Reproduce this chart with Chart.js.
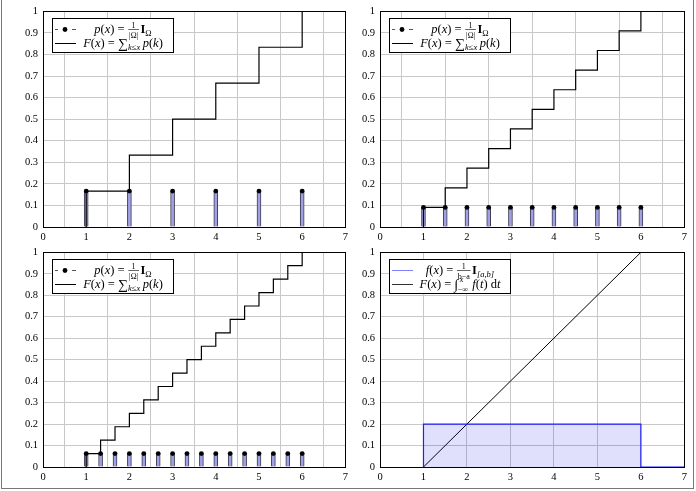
<!DOCTYPE html>
<html>
<head>
<meta charset="utf-8">
<script src="https://cdn.jsdelivr.net/npm/chart.js@4/dist/chart.umd.min.js"></script>
<style>
    body { margin: 0; background: #fff; }
    #page { position: relative; width: 696px; height: 491px; overflow: hidden; }
    #frame { position: absolute; left: 1px; top: -2px; width: 691px; height: 489px; border: 1px solid #777; }
    canvas { position: absolute; }
</style>
</head>
<body>
<div id="page">
    <div id="frame"></div>
    <canvas id="dieGraph" style="left:0;top:0" width="352" height="245"></canvas>
    <canvas id="halfGraph" style="left:337px;top:0" width="354" height="245"></canvas>
    <canvas id="thirdGraph" style="left:0;top:241px" width="352" height="244"></canvas>
    <canvas id="uniformGraph" style="left:337px;top:241px" width="354" height="244"></canvas>
</div>
<script>
// discrete uniform on {1..6}
const dieX = [1, 2, 3, 4, 5, 6];
const dieP = [0.1667, 0.1667, 0.1667, 0.1667, 0.1667, 0.1667];
const dieF = [0.1667, 0.3333, 0.5, 0.6667, 0.8333, 1];

// discrete uniform on 1, 1.5, ..., 6
const halfX = [1, 1.5, 2, 2.5, 3, 3.5, 4, 4.5, 5, 5.5, 6];
const halfP = [0.0909, 0.0909, 0.0909, 0.0909, 0.0909, 0.0909, 0.0909, 0.0909, 0.0909, 0.0909, 0.0909];
const halfF = [0.0909, 0.1818, 0.2727, 0.3636, 0.4545, 0.5455, 0.6364, 0.7273, 0.8182, 0.9091, 1];

// discrete uniform on 1, 4/3, ..., 6
const thirdX = [1, 1.333, 1.667, 2, 2.333, 2.667, 3, 3.333, 3.667, 4, 4.333, 4.667, 5, 5.333, 5.667, 6];
const thirdP = [0.0625, 0.0625, 0.0625, 0.0625, 0.0625, 0.0625, 0.0625, 0.0625,
    0.0625, 0.0625, 0.0625, 0.0625, 0.0625, 0.0625, 0.0625, 0.0625];
const thirdF = [0.0625, 0.125, 0.1875, 0.25, 0.3125, 0.375, 0.4375, 0.5,
    0.5625, 0.625, 0.6875, 0.75, 0.8125, 0.875, 0.9375, 1];

// continuous uniform on [1, 6]
const densX = [1, 1, 6, 6, 7];
const densY = [0, 0.2, 0.2, 0, 0];
const cdfX = [1, 6];
const cdfY = [0, 1];

const xMin = 0, xMax = 7, xStep = 1;
const yMin = 0, yMax = 1, yStep = 0.1;

const serif = '"Liberation Serif", "DejaVu Serif", serif';
const tickFont = { family: serif, size: 10.5 };

const pts = (xs, ys) => xs.map((x, i) => ({ x: x, y: ys[i] }));

const scales = {
    x: {
        type: 'linear', min: xMin, max: xMax, offset: false,
        ticks: { stepSize: xStep, color: '#000', font: tickFont, padding: 4, maxRotation: 0 },
        grid: { color: '#c8c8c8', drawTicks: false },
        border: { display: false },
        afterFit: s => { s.height = 18; }
    },
    y: {
        min: yMin, max: yMax,
        ticks: { stepSize: yStep, color: '#000', font: tickFont, padding: 5,
            callback: v => String(+v.toFixed(1)) },
        grid: { color: '#c8c8c8', drawTicks: false },
        border: { display: false },
        afterFit: s => { s.width = 43; }
    }
};

// math-ish text: italic / bold / sub / sup / fractions
function fontOf(p, size) {
    return (p.b ? 'bold ' : '') + (p.i ? 'italic ' : '') + size + 'px ' + serif;
}

function typeset(ctx, parts, x, y, draw) {
    let w = 0;
    ctx.textBaseline = 'alphabetic';
    ctx.textAlign = 'left';
    parts.forEach(p => {
        if (p.frac) {
            ctx.font = fontOf(p, 8);
            const nw = ctx.measureText(p.frac[0]).width;
            const dw = ctx.measureText(p.frac[1]).width;
            const fw = Math.max(nw, dw) + 1.5;
            if (draw) {
                ctx.fillText(p.frac[0], x + w + 0.5 + (fw - nw) / 2, y - 5.5);
                ctx.fillText(p.frac[1], x + w + 0.5 + (fw - dw) / 2, y + 4.5);
                ctx.fillRect(x + w + 0.5, y - 4, fw, 0.6);
            }
            w += fw + 2;
        } else if (p.lim) {
            ctx.font = fontOf({ i: true }, 8);
            const sw = ctx.measureText(p.lim[0]).width;
            const bw = ctx.measureText(p.lim[1]).width;
            if (draw) {
                ctx.fillText(p.lim[0], x + w + 1, y - 6);
                ctx.font = fontOf({}, 8);
                ctx.fillText(p.lim[1], x + w - 1, y + 4);
            }
            w += Math.max(sw, bw) + 2.5;
        } else {
            const size = p.sub || p.sup ? 8.5 : (p.size || 12.5);
            ctx.font = fontOf(p, size);
            const dy = p.sub ? 3 : (p.sup ? -4 : 0) + (p.dy || 0);
            if (draw) ctx.fillText(p.t, x + w, y + dy);
            w += ctx.measureText(p.t).width + (p.sp || 0);
        }
    });
    return w;
}

const pmfLabel = [
    { t: 'p', i: true }, { t: '(' }, { t: 'x', i: true }, { t: ') = ' },
    { frac: ['1', '|Ω|'] }, { t: 'I', b: true }, { t: 'Ω', sub: true }
];
const cdfLabel = [
    { t: 'F', i: true }, { t: '(' }, { t: 'x', i: true }, { t: ') = ' },
    { t: '∑', size: 14, dy: 1 }, { t: 'k≤x', sub: true, i: true, sp: 2.5 },
    { t: 'p', i: true }, { t: '(' }, { t: 'k', i: true }, { t: ')' }
];
const densLabel = [
    { t: 'f', i: true }, { t: '(' }, { t: 'x', i: true }, { t: ') = ' },
    { frac: ['1', 'b−a'] }, { t: 'I', b: true }, { t: '[a,b]', sub: true, i: true }
];
const intLabel = [
    { t: 'F', i: true }, { t: '(' }, { t: 'x', i: true }, { t: ') = ' },
    { t: '∫', size: 14, dy: 1, sp: 0.5 }, { lim: ['x', '−∞'] },
    { t: 'f', i: true }, { t: '(' }, { t: 't', i: true }, { t: ') d' }, { t: 't', i: true }
];

function sampleDots(ctx, x0, y) {
    ctx.strokeStyle = '#555';
    ctx.lineWidth = 1;
    ctx.beginPath();
    ctx.moveTo(x0, y); ctx.lineTo(x0 + 3, y);
    ctx.moveTo(x0 + 17, y); ctx.lineTo(x0 + 21, y);
    ctx.stroke();
    ctx.fillStyle = '#000';
    ctx.beginPath();
    ctx.arc(x0 + 10, y, 2.4, 0, Math.PI * 2);
    ctx.fill();
}

function sampleLine(color) {
    return (ctx, x0, y) => {
        ctx.strokeStyle = color;
        ctx.lineWidth = 1;
        ctx.beginPath();
        ctx.moveTo(x0, y); ctx.lineTo(x0 + 21, y);
        ctx.stroke();
    };
}

// axis frame plus the boxed legend in the upper left corner
function decorations(rows) {
    return {
        id: 'decorations',
        afterDatasetsDraw(chart) {
            const ctx = chart.ctx;
            const a = chart.chartArea;
            ctx.save();
            ctx.strokeStyle = '#000';
            ctx.lineWidth = 1;
            ctx.strokeRect(Math.round(a.left) + 0.5, Math.round(a.top) + 0.5,
                Math.round(a.right - a.left), Math.round(a.bottom - a.top));

            const bx = Math.round(a.left) + 9, by = Math.round(a.top) + 7;
            ctx.fillStyle = '#fff';
            ctx.fillRect(bx, by, 121, 34);
            ctx.strokeRect(bx + 0.5, by + 0.5, 121, 34);
            rows.forEach((row, i) => {
                const cy = by + 11 + i * 14;
                row.sample(ctx, bx + 3, cy + 0.5);
                ctx.fillStyle = '#000';
                const w = typeset(ctx, row.label, 0, 0, false);
                typeset(ctx, row.label, bx + 71 - w / 2, cy + 4, true);
            });
            ctx.restore();
        }
    };
}

function discreteChart(canvasId, xs, ps, fs) {
    new Chart(document.getElementById(canvasId).getContext('2d'), {
        type: 'bar',
        data: {
            datasets: [{
                type: 'bar',
                data: pts(xs, ps),
                backgroundColor: '#a0a0e6',
                borderColor: '#3c3c50',
                borderWidth: 1,
                barThickness: 4,
                grouped: false,
                order: 3
            }, {
                type: 'line',
                data: [{ x: xs[0], y: 0 }].concat(pts(xs, fs)),
                borderColor: '#000',
                borderWidth: 1.2,
                stepped: 'before',
                pointRadius: 0,
                fill: false,
                order: 2
            }, {
                type: 'line',
                data: pts(xs, ps),
                showLine: false,
                pointRadius: 2.4,
                pointBackgroundColor: '#000',
                pointBorderWidth: 0,
                order: 1
            }]
        },
        options: {
            responsive: false,
            animation: false,
            layout: { padding: { top: 11, right: 2, left: 0, bottom: 0 } },
            scales: scales,
            plugins: { legend: { display: false }, tooltip: { enabled: false } }
        },
        plugins: [decorations([
            { sample: sampleDots, label: pmfLabel },
            { sample: sampleLine('#000'), label: cdfLabel }
        ])]
    });
}

discreteChart('dieGraph', dieX, dieP, dieF);
discreteChart('halfGraph', halfX, halfP, halfF);
discreteChart('thirdGraph', thirdX, thirdP, thirdF);

new Chart(document.getElementById('uniformGraph').getContext('2d'), {
    type: 'line',
    data: {
        datasets: [{
            data: pts(densX, densY),
            borderColor: '#2020ff',
            borderWidth: 1.2,
            backgroundColor: 'rgba(0, 0, 230, 0.12)',
            fill: 'origin',
            pointRadius: 0,
            tension: 0
        }, {
            data: pts(cdfX, cdfY),
            borderColor: '#000',
            borderWidth: 1,
            pointRadius: 0,
            fill: false
        }]
    },
    options: {
        responsive: false,
        animation: false,
        layout: { padding: { top: 11, right: 2, left: 0, bottom: 0 } },
        scales: scales,
        plugins: { legend: { display: false }, tooltip: { enabled: false } }
    },
    plugins: [decorations([
        { sample: sampleLine('#7f7fff'), label: densLabel },
        { sample: sampleLine('#333'), label: intLabel }
    ])]
});
</script>
</body>
</html>
